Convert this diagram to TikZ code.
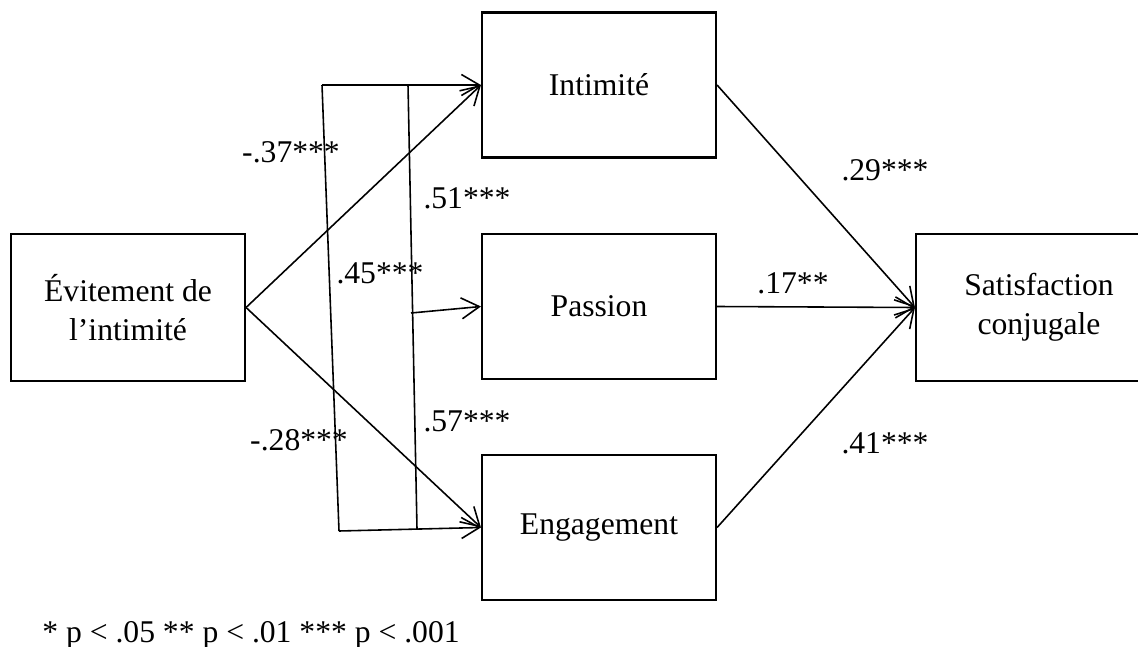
\documentclass[tikz,border=0pt]{standalone}
\usepackage{fontspec}
\setmainfont{Liberation Serif}
\usetikzlibrary{positioning}
\usetikzlibrary{arrows.meta}

\begin{document}
\begin{tikzpicture}[
  font=\fontsize{18}{22}\selectfont,
  box/.style={draw, line width=1.2pt, minimum width=4.68cm, minimum height=2.9cm,
              inner sep=0pt, align=center},
  lab/.style={inner sep=0pt},
  ar/.style={-{Straight Barb[length=3.6mm, width=4.2mm]}, line width=0.9pt},
  ln/.style={line width=0.9pt}
]
\clip (0,0) rectangle (22.76,-12.94);

\node[box, minimum height=2.94cm] (evit) at (2.56,-6.15) {Évitement de\\l’intimité};
\node[box] (int) at (11.98,-1.70)  {Intimité};
\node[box] (pas) at (11.98,-6.13)  {Passion};
\node[box] (eng) at (11.98,-10.55) {Engagement};
\node[box, minimum width=4.92cm, minimum height=2.94cm] (sat) at (20.78,-6.15) {Satisfaction\\conjugale};

% the two bars on the left
\coordinate (v1top) at (6.44,-1.70);
\coordinate (v1bot) at (6.78,-10.62);
\coordinate (v2top) at (8.16,-1.70);
\coordinate (v2bot) at (8.34,-10.58);
\coordinate (v2mid) at (8.22,-6.26);
\draw[ln] (v1top) -- (v1bot);
\draw[ln] (v2top) -- (v2bot);
\draw[ar] (v1top) -- (int.west);
\draw[ar] (v1bot) -- (eng.west);
\draw[ar] (v2mid) -- (pas.west);

\draw[ar] (evit.east) -- (int.west);
\draw[ar] (evit.east) -- (eng.west);

\draw[ar] (int.east) -- (sat.west);
\draw[ar] (pas.east) -- (sat.west);
\draw[ar] (eng.east) -- (sat.west);

\node[lab] at (5.82,-3.04)  {-.37***};
\node[lab] at (9.34,-3.96)  {.51***};
\node[lab] at (7.60,-5.46)  {.45***};
\node[lab] at (9.34,-8.42)  {.57***};
\node[lab] at (5.98,-8.80)  {-.28***};
\node[lab] at (17.70,-3.40) {.29***};
\node[lab] at (15.86,-5.66) {.17**};
\node[lab] at (17.70,-8.86) {.41***};

\node[lab, anchor=base west] at (0.84,-12.84) {* p < .05 ** p < .01 *** p < .001};
\end{tikzpicture}
\end{document}
